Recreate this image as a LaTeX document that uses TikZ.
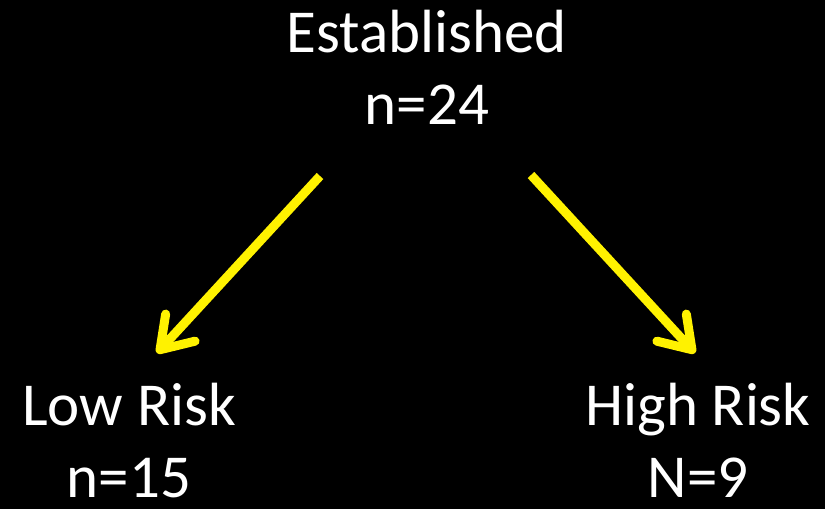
\documentclass[tikz,border=0pt]{standalone}
\usepackage{fontspec}
\setmainfont{Carlito}
\usetikzlibrary{arrows.meta}
\begin{document}
\begin{tikzpicture}[x=1pt,y=-1pt,
  lbl/.style={text=white,font=\fontsize{61}{72}\selectfont,align=center,anchor=base,inner sep=0pt},
  arr/.style={draw=yellow,line width=9pt,-{Straight Barb[round,length=30pt,width=40pt]}}]
\fill[black] (0,0) rectangle (825,509);
\useasboundingbox (0,0) rectangle (825,509);
\node[lbl] (est) at (427,124) {Established\\n=24};
\node[lbl] (low) at (129,497) {Low Risk\\n=15};
\node[lbl] (high) at (698,497) {High Risk\\N=9};
\coordinate (ls) at (320,176);
\coordinate (le) at (157,353);
\coordinate (rs) at (531,175);
\coordinate (re) at (695,353);
\draw[arr] (ls) -- (le);
\draw[arr] (rs) -- (re);
\end{tikzpicture}
\end{document}
